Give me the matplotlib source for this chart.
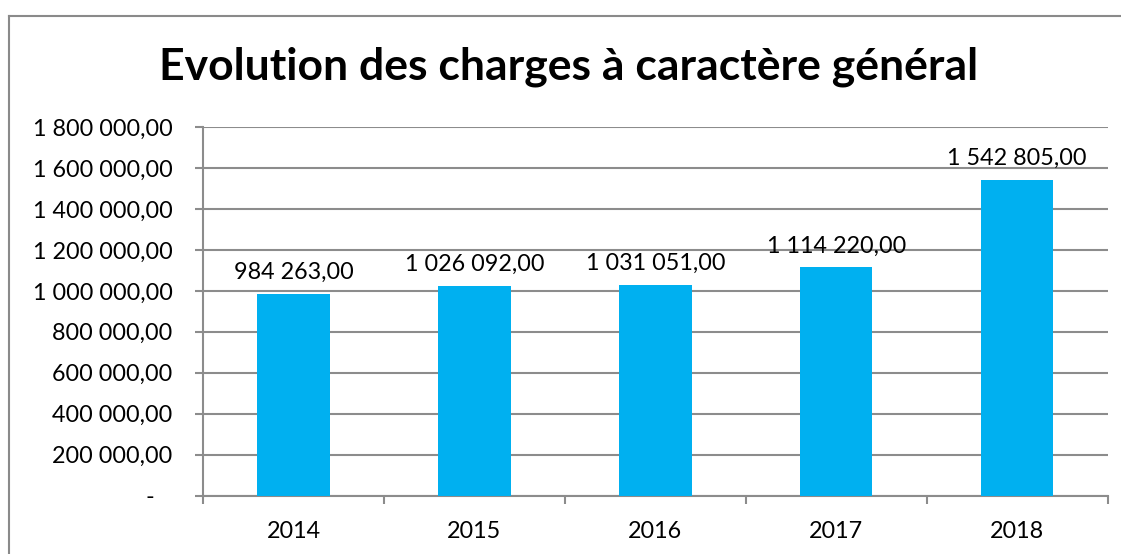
import matplotlib.pyplot as plt
from matplotlib.lines import Line2D
from matplotlib.ticker import FuncFormatter, FixedLocator

years = ['2014', '2015', '2016', '2017', '2018']
charges = [984263.00, 1026092.00, 1031051.00, 1114220.00, 1542805.00]
y_ticks = [0, 200000, 400000, 600000, 800000, 1000000, 1200000, 1400000, 1600000, 1800000]


def fr(v):
    # French number format: space thousands, comma decimals
    s = f"{v:,.2f}"
    return s.replace(",", " ").replace(".", ",")


def ytick_fmt(v, pos):
    if v == 0:
        return "-   "
    return fr(v)


plt.rcParams['font.family'] = ['Lato', 'DejaVu Sans']

W, H = 1121, 554
fig = plt.figure(figsize=(W / 100, H / 100), dpi=100)
fig.patch.set_facecolor('white')

# outer chart frame (left and top edges only are in view)
fx, fy = 8.5 / W, 1 - 16 / H
fig.add_artist(Line2D([fx, fx], [0, fy], transform=fig.transFigure,
                      color='#8a8a8a', linewidth=1.5))
fig.add_artist(Line2D([fx, 1], [fy, fy], transform=fig.transFigure,
                      color='#8a8a8a', linewidth=1.5))

ax = fig.add_axes([203 / W, 1 - 495.7 / H, (1107.7 - 203) / W, (495.7 - 127) / H])

gray = '#8c8c8c'
fs = 16.8
x = list(range(len(years)))
ax.bar(x, charges, width=0.4, color='#00B0F0', zorder=3)

for xi, v in zip(x, charges):
    ax.annotate(fr(v), (xi, v), xytext=(0, 8), textcoords='offset points',
                ha='center', va='bottom', fontsize=fs, color='black')

ax.set_xlim(-0.5, len(years) - 0.5)
ax.set_ylim(0, 1800000)
ax.yaxis.set_major_locator(FixedLocator(y_ticks))
ax.yaxis.set_major_formatter(FuncFormatter(ytick_fmt))
ax.grid(axis='y', color=gray, linewidth=1.5, zorder=0)

ax.set_xticks(x)
ax.set_xticklabels(years)
ax.set_xticks([i - 0.5 for i in range(len(years) + 1)], minor=True)
ax.tick_params(axis='x', which='major', length=0, pad=18, labelsize=fs)
ax.tick_params(axis='x', which='minor', length=6, width=1.5, color=gray, direction='out')
ax.tick_params(axis='y', length=6, width=1.5, color=gray, direction='out', pad=16, labelsize=fs)

for side in ['top', 'right']:
    ax.spines[side].set_visible(False)
for side in ['left', 'bottom']:
    ax.spines[side].set_color(gray)
    ax.spines[side].set_linewidth(1.5)

fig.text(569 / W, 1 - 67 / H, 'Evolution des charges à caractère général',
         ha='center', va='center', fontsize=32, fontweight='bold')

fig.savefig('out.png', dpi=100)
